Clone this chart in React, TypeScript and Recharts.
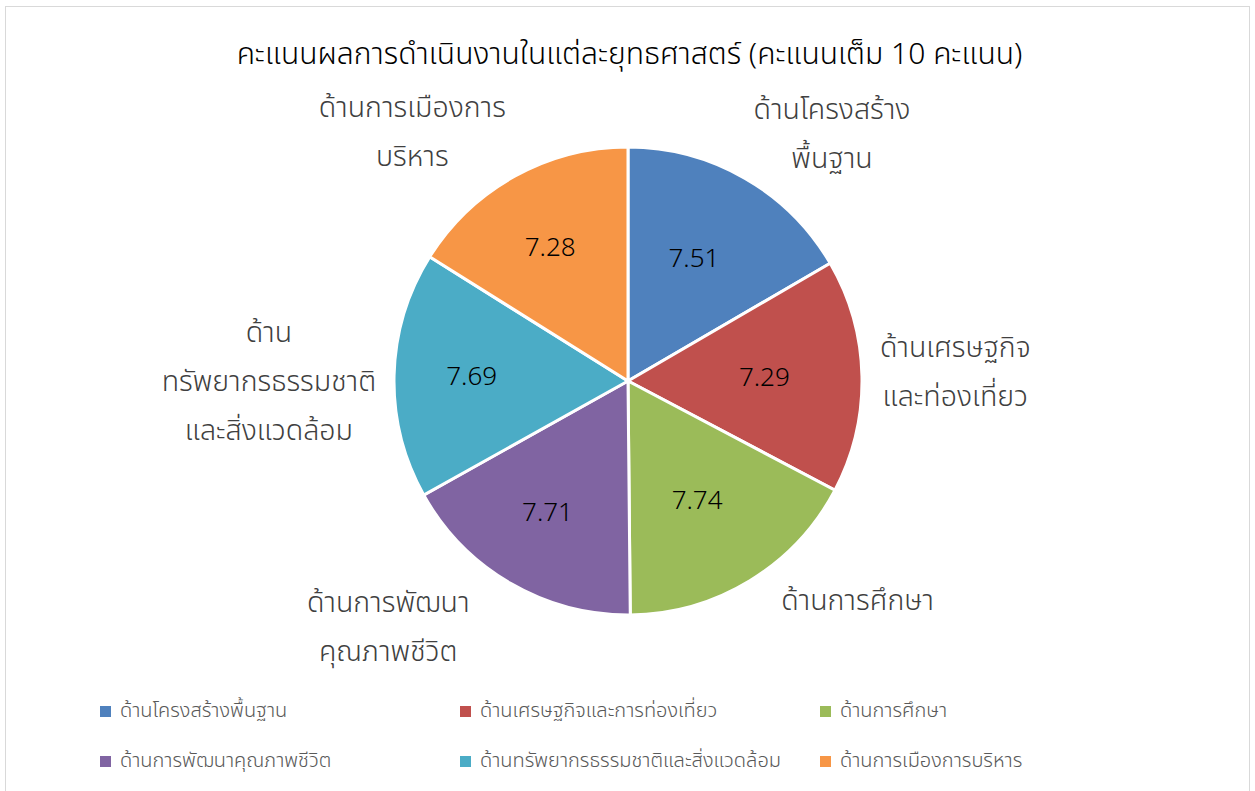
import React from 'react';
import { PieChart, Pie, Cell, Legend } from 'recharts';

const categories = [
  'ด้านโครงสร้างพื้นฐาน',
  'ด้านเศรษฐกิจและการท่องเที่ยว',
  'ด้านการศึกษา',
  'ด้านการพัฒนาคุณภาพชีวิต',
  'ด้านทรัพยากรธรรมชาติและสิ่งแวดล้อม',
  'ด้านการเมืองการบริหาร',
];
const scores = [7.51, 7.29, 7.74, 7.71, 7.69, 7.28];
const sliceLabels = [
  ['ด้านโครงสร้าง', 'พื้นฐาน'],
  ['ด้านเศรษฐกิจ', 'และท่องเที่ยว'],
  ['ด้านการศึกษา'],
  ['ด้านการพัฒนา', 'คุณภาพชีวิต'],
  ['ด้าน', 'ทรัพยากรธรรมชาติ', 'และสิ่งแวดล้อม'],
  ['ด้านการเมืองการ', 'บริหาร'],
];
const colors = ['#4F81BD', '#C0504D', '#9BBB59', '#8064A2', '#4BACC6', '#F79646'];
const title = 'คะแนนผลการดำเนินงานในแต่ละยุทธศาสตร์ (คะแนนเต็ม 10 คะแนน)';

const data = categories.map((name, i) => ({ name, value: scores[i] }));

const FONT = '"Noto Sans Thai", "Noto Sans", sans-serif';
const LABEL_SIZE = 28.5;
const LINE_H = 49;
const RAD = Math.PI / 180;

let ctx: CanvasRenderingContext2D | null = null;
function textWidth(s: string, size: number) {
  if (!ctx) ctx = document.createElement('canvas').getContext('2d');
  if (!ctx) return s.length * size * 0.5;
  ctx.font = `300 ${size}px ${FONT}`;
  return ctx.measureText(s).width;
}

function renderLabel(props: any) {
  const { cx, cy, midAngle, outerRadius, index, value } = props;
  const dx = Math.cos(-midAngle * RAD);
  const dy = Math.sin(-midAngle * RAD);
  // value inside the slice
  const inR = outerRadius * 0.6 + (dx < 0 ? 12 : 0);
  const vx = cx + inR * dx - 4;
  const vy = cy + inR * dy;

  // outside labels, placed roughly the way Excel does it
  const lines = sliceLabels[index];
  const gap = 18;
  let px = cx + (outerRadius + gap) * dx;
  const py = cy + (outerRadius + gap) * dy;
  if (dy > 0.3) px += dx > 0 ? 22 : -32;
  const w = Math.max(...lines.map((l) => textWidth(l, LABEL_SIZE)));
  const span = (lines.length - 1) * LINE_H;
  let left = px - w / 2;
  if (dx > 0.2) left = px;
  else if (dx < -0.2) left = px - w;
  let firstY = py - span / 2;
  if (dy < -0.3) firstY = py - 3 - span;
  else if (dy > 0.3) firstY = py + 5;
  else if (dx < 0) firstY += 8;
  else firstY -= 3;
  const midX = left + w / 2;

  return (
    <g>
      <text x={vx} y={vy} textAnchor="middle" dominantBaseline="central" fill="#000" fontSize={26} fontWeight={300} fontFamily={FONT}>
        {value.toFixed(2)}
      </text>
      {lines.map((l, i) => (
        <text key={i} x={midX} y={firstY + i * LINE_H} textAnchor="middle" dominantBaseline="central" fill="#404040" fontSize={LABEL_SIZE} fontWeight={300} fontFamily={FONT}>
          {l}
        </text>
      ))}
    </g>
  );
}

function LegendBox() {
  return (
    <div style={{ display: 'flex', flexWrap: 'wrap', width: 1080, fontFamily: FONT, fontWeight: 300 }}>
      {categories.map((c, i) => (
        <div key={c} style={{ width: 360, height: 50, display: 'flex', alignItems: 'center', color: '#595959', fontSize: 20 }}>
          <span style={{ width: 11, height: 11, background: colors[i], marginRight: 9, display: 'inline-block' }} />
          {c}
        </div>
      ))}
    </div>
  );
}

export default function App() {
  return (
    <div style={{ position: 'absolute', left: 0, top: 0, width: 1255, height: 791, background: '#fff', overflow: 'hidden' }}>
      <div style={{ position: 'absolute', left: 5, top: 6, width: 1243, height: 820, border: '1.5px solid #d9d9d9' }} />
      <div style={{ position: 'absolute', left: 0, top: 32, width: 1255, paddingLeft: 2, textAlign: 'center', fontSize: 30, fontWeight: 300, color: '#000', fontFamily: FONT }}>
        {title}
      </div>
      <PieChart width={1255} height={791} style={{ position: 'absolute', left: 0, top: 0 }}>
        <Pie
          data={data}
          dataKey="value"
          nameKey="name"
          cx={623}
          cy={376}
          outerRadius={234}
          startAngle={90}
          endAngle={-270}
          stroke="#fff"
          strokeWidth={3}
          label={renderLabel}
          labelLine={false}
          isAnimationActive={false}
        >
          {data.map((d, i) => (
            <Cell key={d.name} fill={colors[i]} />
          ))}
        </Pie>
        <Legend content={<LegendBox />} wrapperStyle={{ position: 'absolute', left: 100, top: 686, width: 1080 }} />
      </PieChart>
    </div>
  );
}
